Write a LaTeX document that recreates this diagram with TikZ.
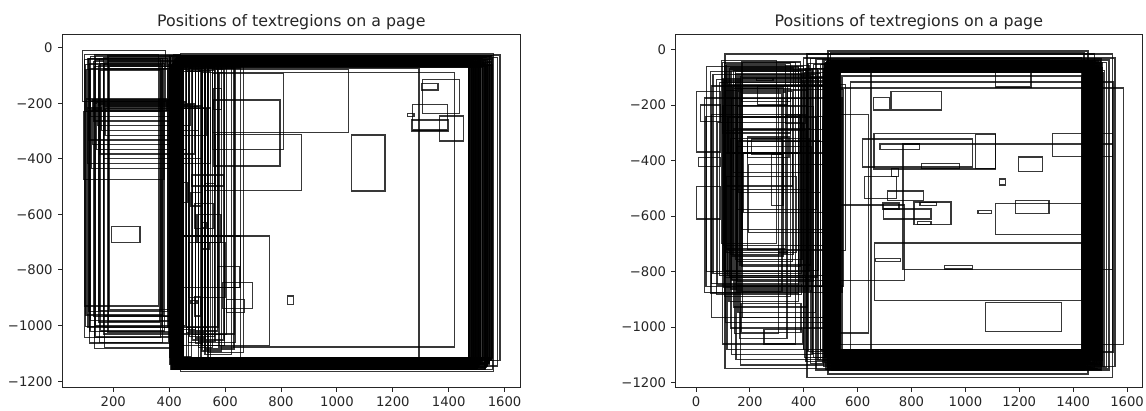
\documentclass[tikz,border=0pt]{standalone}
\usepackage{fontspec}
\setmainfont{DejaVu Sans}
\tikzset{
  box/.style={draw=black, draw opacity=0.78, line width=1.3pt},
  spine/.style={draw=black!85, line width=1pt},
  ticklab/.style={font=\fontsize{13.2}{15}\selectfont, inner sep=0pt, text=black!85},
  titlelab/.style={font=\fontsize{15.8}{18}\selectfont, inner sep=0pt, anchor=base, text=black!85}
}
\begin{document}
\begin{tikzpicture}[x=1pt,y=1pt]
\useasboundingbox (0,0) rectangle (1146,410);
\fill[white] (0,0) rectangle (1146,410);

% ---------------- left plot data ----------------
\begin{scope}[shift={(57.4pt,362.4pt)},x=0.2795pt,y=0.278pt]
  % left column
  \foreach \i in {0,...,21}{
    \pgfmathtruncatemacro\xa{96+mod(\i*17,100)}
    \pgfmathtruncatemacro\ya{-25-mod(\i*13,60)}
    \pgfmathtruncatemacro\xb{362+mod(\i*31,90)}
    \pgfmathtruncatemacro\yb{-930-mod(\i*19,155)}
    \draw[box] (\xa,\ya) rectangle (\xb,\yb);
  }
  % horizontal group
  \foreach \i in {0,...,12}{
    \pgfmathtruncatemacro\xa{105+mod(\i*13,70)}
    \pgfmathtruncatemacro\ya{-185-mod(\i*7,45)}
    \pgfmathtruncatemacro\xb{390+mod(\i*29,160)}
    \pgfmathtruncatemacro\yb{-230-mod(\i*17,215)}
    \draw[box] (\xa,\ya) rectangle (\xb,\yb);
  }
  % middle verticals
  \foreach \i in {0,...,22}{
    \pgfmathtruncatemacro\xa{440+mod(\i*11,110)}
    \pgfmathtruncatemacro\ya{-50-mod(\i*7,40)}
    \pgfmathtruncatemacro\xb{\xa+20+mod(\i*23,110)}
    \pgfmathtruncatemacro\yb{-1000-mod(\i*13,150)}
    \draw[box] (\xa,\ya) rectangle (\xb,\yb);
  }
  % frame
  \foreach \i in {0,...,64}{
    \pgfmathtruncatemacro\xa{403+mod(\i*37,50)}
    \pgfmathtruncatemacro\ya{-28-mod(\i*23,44)}
    \pgfmathtruncatemacro\xb{1470+mod(\i*41,90)}
    \pgfmathtruncatemacro\yb{-1114-mod(\i*29,46)}
    \draw[box] (\xa,\ya) rectangle (\xb,\yb);
  }
  \foreach \a/\b/\c/\d in {
    90/-10/388/-195, 93/-231/381/-474, 556/-80/1041/-306, 556/-92/808/-366,
    564/-312/874/-515, 558/-188/796/-426, 1052/-314/1172/-516, 558/-146/588/-222,
    480/-458/594/-498, 527/-488/563/-513, 194/-644/296/-700, 823/-893/844/-923,
    445/-678/758/-1072, 572/-788/651/-862, 590/-844/699/-938, 606/-905/670/-952,
    445/-678/656/-862, 1307/-114/1438/-236, 1303/-128/1362/-153, 1271/-204/1395/-296,
    1366/-246/1452/-336, 1268/-260/1400/-300, 1252/-236/1276/-249, 578/-90/1421/-1077,
    420/-75/1294/-1120, 470/-75/637/-1060, 424/-484/467/-558, 478/-520/520/-570,
    490/-560/560/-650, 500/-600/585/-700, 470/-700/600/-900, 520/-630/535/-648,
    520/-700/545/-725, 490/-895/512/-965, 478/-910/500/-920, 415/-27/1584/-1125,
    420/-35/1575/-1145, 440/-22/1560/-1166, 110/-40/575/-1005, 165/-60/633/-1030}
    {\draw[box] (\a,\b) rectangle (\c,\d);}
\end{scope}

% ---------------- right plot data ----------------
\begin{scope}[shift={(696pt,360.3pt)},x=0.2694pt,y=0.2773pt]
  \foreach \i in {0,...,30}{
    \pgfmathtruncatemacro\xa{95+mod(\i*17,80)}
    \pgfmathtruncatemacro\ya{-40-mod(\i*13,120)}
    \pgfmathtruncatemacro\xb{300+mod(\i*31,260)}
    \pgfmathtruncatemacro\yb{-700-mod(\i*19,450)}
    \draw[box] (\xa,\ya) rectangle (\xb,\yb);
  }
  \foreach \i in {0,...,12}{
    \pgfmathtruncatemacro\xa{40+mod(\i*23,120)}
    \pgfmathtruncatemacro\ya{-60-mod(\i*29,300)}
    \pgfmathtruncatemacro\xb{380+mod(\i*11,60)}
    \pgfmathtruncatemacro\yb{-800-mod(\i*7,350)}
    \draw[box] (\xa,\ya) rectangle (\xb,\yb);
  }
  \foreach \i in {0,...,11}{
    \pgfmathtruncatemacro\xa{100+mod(\i*19,100)}
    \pgfmathtruncatemacro\ya{-200-mod(\i*43,300)}
    \pgfmathtruncatemacro\xb{350+mod(\i*37,200)}
    \pgfmathtruncatemacro\yb{\ya-100-mod(\i*29,300)}
    \draw[box] (\xa,\ya) rectangle (\xb,\yb);
  }
  \foreach \i in {0,...,74}{
    \pgfmathtruncatemacro\xa{475+mod(\i*37,60)}
    \pgfmathtruncatemacro\ya{-38-mod(\i*23,45)}
    \pgfmathtruncatemacro\xb{1437+mod(\i*41,72)}
    \pgfmathtruncatemacro\yb{-1083-mod(\i*29,74)}
    \draw[box] (\xa,\ya) rectangle (\xb,\yb);
  }
  \foreach \i in {0,...,19}{
    \pgfmathtruncatemacro\xa{400+mod(\i*37,140)}
    \pgfmathtruncatemacro\ya{-30-mod(\i*23,55)}
    \pgfmathtruncatemacro\xb{1430+mod(\i*43,110)}
    \pgfmathtruncatemacro\yb{-1080-mod(\i*31,80)}
    \draw[box] (\xa,\ya) rectangle (\xb,\yb);
  }
  \foreach \a/\b/\c/\d in {
    3/-150/90/-369, 9/-390/90/-420, 3/-494/90/-611, 16/-199/90/-260,
    32/-174/542/-875, 57/-131/520/-967, 37/-240/470/-853, 167/-915/390/-1020,
    252/-1010/394/-1061, 205/-322/320/-377, 190/-315/345/-390, 279/-377/323/-561,
    229/-131/340/-199, 170/-139/350/-187, 333/-236/407/-267, 305/-727/340/-733,
    225/-104/286/-110, 108/-15/1480/-1150, 412/-15/1545/-1182, 490/-5/1455/-1170,
    500/-10/1440/-1115, 573/-117/1548/-1090, 535/-138/1586/-1064, 650/-30/1555/-1142,
    542/-95/1431/-1083, 660/-172/717/-217, 724/-150/910/-217, 661/-303/1111/-430,
    1037/-306/1111/-429, 1324/-303/1546/-386, 619/-322/1027/-423, 683/-340/829/-361,
    836/-410/977/-429, 1198/-387/1287/-439, 1126/-466/1149/-488, 725/-429/751/-457,
    625/-457/744/-537, 710/-510/845/-543, 694/-553/754/-574, 697/-574/872/-611,
    809/-549/946/-631, 832/-551/892/-561, 822/-620/872/-631, 1047/-580/1098/-590,
    1111/-555/1431/-666, 1186/-545/1310/-590, 663/-697/1431/-905, 666/-754/760/-764,
    768/-340/1546/-792, 922/-779/1027/-791, 1074/-912/1357/-1016, 528/-560/774/-832,
    535/-233/639/-1022, 1111/-82/1244/-135}
    {\draw[box] (\a,\b) rectangle (\c,\d);}
\end{scope}

% ---------------- axes ----------------
\draw[spine] (62.2,23) rectangle (520.5,375);
\draw[spine] (675.7,23) rectangle (1142,375);

\node[titlelab] (t1) at (291.3,383) {Positions of textregions on a page};
\node[titlelab] (t2) at (908.8,383) {Positions of textregions on a page};

\foreach \k/\t in {0/0,1/−200,2/−400,3/−600,4/−800,5/−1000,6/−1200}{
  \pgfmathsetmacro\yy{362.4-55.6*\k}
  \draw[spine] (62.2,\yy) -- (57.5,\yy);
  \node[ticklab,anchor=east] (ly\k) at (52.8,\yy) {\t};
  \pgfmathsetmacro\yr{360.3-55.46*\k}
  \draw[spine] (675.7,\yr) -- (671,\yr);
  \node[ticklab,anchor=east] (ry\k) at (666.3,\yr) {\t};
}
\foreach \k/\t in {1/200,2/400,3/600,4/800,5/1000,6/1200,7/1400,8/1600}{
  \pgfmathsetmacro\xx{57.4+55.9*\k}
  \draw[spine] (\xx,23) -- (\xx,18.3);
  \node[ticklab,anchor=north] (lx\k) at (\xx,13.6) {\t};
}
\foreach \k/\t in {0/0,1/200,2/400,3/600,4/800,5/1000,6/1200,7/1400,8/1600}{
  \pgfmathsetmacro\xx{696+53.88*\k}
  \draw[spine] (\xx,23) -- (\xx,18.3);
  \node[ticklab,anchor=north] (rx\k) at (\xx,13.6) {\t};
}
\end{tikzpicture}
\end{document}
